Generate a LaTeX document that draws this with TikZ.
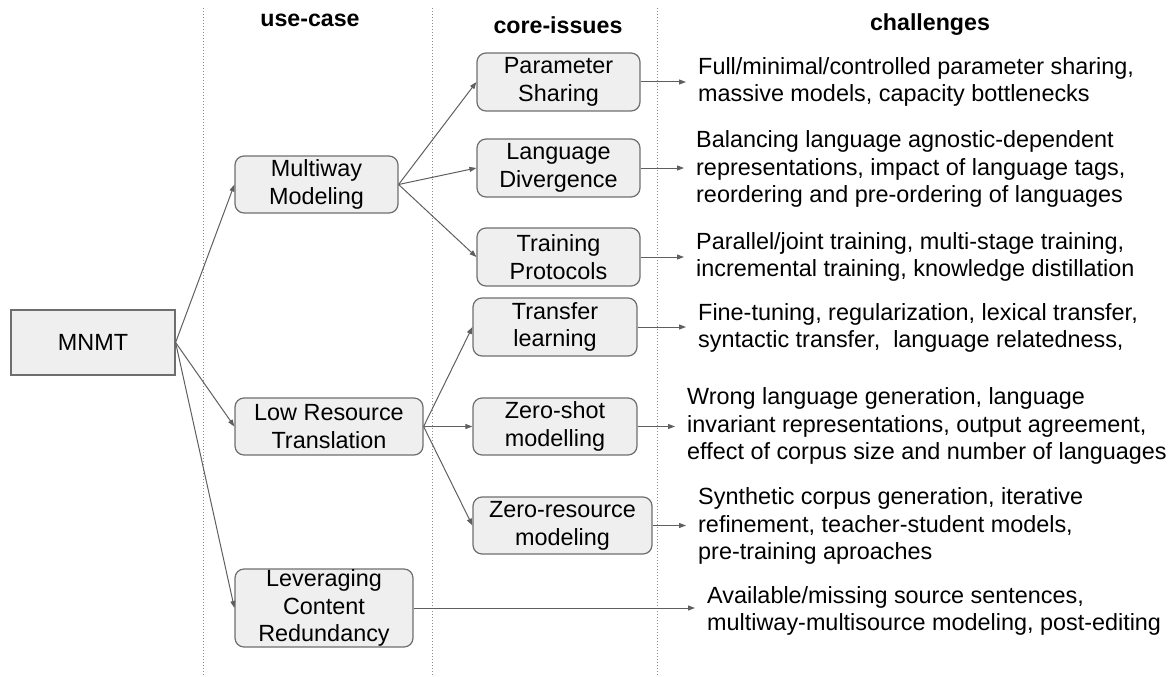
\documentclass[tikz,border=0pt]{standalone}
\usepackage{fontspec}
\setmainfont{Liberation Sans}
\usetikzlibrary{arrows.meta}
\definecolor{boxfill}{HTML}{EFEFEF}
\definecolor{boxline}{HTML}{6E6E6E}
\definecolor{arrowc}{HTML}{5F5F5F}
\definecolor{dotc}{HTML}{8C8C8C}
\begin{document}
\begin{tikzpicture}[x=1pt,y=-1pt,
  every node/.style={font=\fontsize{23.4}{27.8}\selectfont},
  ubox/.style={draw=boxline,line width=1.2pt,fill=boxfill,rounded corners=9pt,
    align=center,inner sep=0pt,minimum height=57pt},
  sqbox/.style={draw=boxline,line width=1.2pt,fill=boxfill,align=center,inner sep=0pt},
  chal/.style={anchor=west,align=left,inner sep=0pt},
  head/.style={font=\fontsize{23.2}{27.8}\selectfont\bfseries},
  conn/.style={draw=arrowc,line width=1pt,-{Triangle[length=7pt,width=5pt]}},
  sep/.style={draw=dotc,line width=1pt,dash pattern=on 1pt off 2pt}]
\useasboundingbox (0,0) rectangle (1171,677);
% separators
\draw[sep] (203,8) -- (203,677);
\draw[sep] (432,8) -- (432,677);
\draw[sep] (657,8) -- (657,677);
% headings
\node[head] (h1) at (310,20) {use-case};
\node[head] (h2) at (558,25) {core-issues};
\node[head] (h3) at (930,25) {challenges};
% root
\node[sqbox,minimum width=164pt,minimum height=65pt] (mnmt) at (93,342.5) {MNMT};
% use cases
\node[ubox,minimum width=163pt] (mw) at (316.5,184.5) {Multiway\\Modeling};
\node[ubox,minimum width=188pt] (lr) at (329,426.5) {Low Resource\\Translation};
\node[ubox,minimum width=178pt,minimum height=78pt] (lev) at (324,608) {Leveraging\\Content\\Redundancy};
% core issues
\node[ubox,minimum width=163pt,minimum height=58pt] (ps) at (558.5,82) {Parameter\\Sharing};
\node[ubox,minimum width=163pt,minimum height=58pt] (ld) at (558.5,168) {Language\\Divergence};
\node[ubox,minimum width=163pt,minimum height=58pt] (tp) at (558.5,257) {Training\\Protocols};
\node[ubox,minimum width=164pt,minimum height=58pt] (tl) at (555,327) {Transfer\\learning};
\node[ubox,minimum width=164pt] (zs) at (555,426.5) {Zero-shot\\modelling};
\node[ubox,minimum width=179pt] (zr) at (562.5,525.5) {Zero-resource\\modeling};
% challenges
\node[chal] (c1) at (698,82) {Full/minimal/controlled parameter sharing,\\massive models, capacity bottlenecks};
\node[chal] (c2) at (696,169) {Balancing language agnostic-dependent\\representations, impact of language tags,\\reordering and pre-ordering of languages};
\node[chal] (c3) at (696,257) {Parallel/joint training, multi-stage training,\\incremental training, knowledge distillation};
\node[chal] (c4) at (698,328) {Fine-tuning, regularization, lexical transfer,\\syntactic transfer,\ \ language relatedness,};
\node[chal] (c5) at (687,426) {Wrong language generation, language\\invariant representations, output agreement,\\effect of corpus size and number of languages};
\node[chal] (c6) at (698,526) {Synthetic corpus generation, iterative\\refinement, teacher-student models,\\pre-training aproaches};
\node[chal] (c7) at (707,611) {Available/missing source sentences,\\multiway-multisource modeling, post-editing};
% connectors root -> use cases
\draw[conn] (mnmt.east) -- (mw.west);
\draw[conn] (mnmt.east) -- (lr.west);
\draw[conn] (mnmt.east) -- (lev.west);
% use cases -> core issues
\draw[conn] (mw.east) -- (ps.west);
\draw[conn] (mw.east) -- (ld.west);
\draw[conn] (mw.east) -- (tp.west);
\draw[conn] (lr.east) -- (tl.west);
\draw[conn] (lr.east) -- (zs.west);
\draw[conn] (lr.east) -- (zr.west);
% to challenges
\draw[conn,shorten >=12pt] (ps.east) -- (ps.east -| c1.west);
\draw[conn,shorten >=12pt] (ld.east) -- (ld.east -| c2.west);
\draw[conn,shorten >=12pt] (tp.east) -- (tp.east -| c3.west);
\draw[conn,shorten >=12pt] (tl.east) -- (tl.east -| c4.west);
\draw[conn,shorten >=12pt] (zs.east) -- (zs.east -| c5.west);
\draw[conn,shorten >=12pt] (zr.east) -- (zr.east -| c6.west);
\draw[conn,shorten >=12pt] (lev.east) -- (lev.east -| c7.west);
\end{tikzpicture}
\end{document}
